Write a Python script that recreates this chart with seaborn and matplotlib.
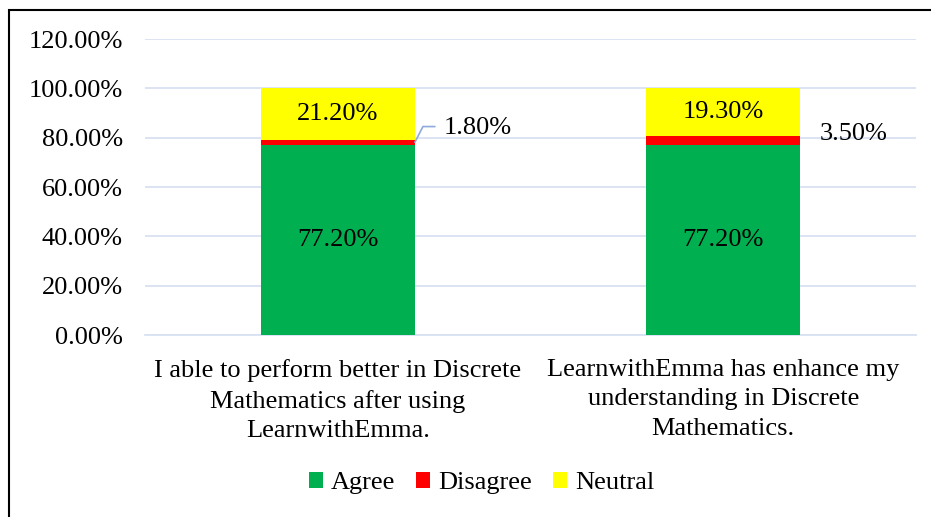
import matplotlib
matplotlib.use("Agg")
import matplotlib.pyplot as plt
import seaborn as sns
import numpy as np
import pandas as pd
from matplotlib.patches import Rectangle

categories = [
    "I able to perform better in Discrete\nMathematics after using\nLearnwithEmma.",
    "LearnwithEmma has enhance my\nunderstanding in Discrete\nMathematics.",
]
agree = [77.2, 77.2]
disagree = [1.8, 3.5]
neutral = [21.2, 19.3]
series_names = ["Agree", "Disagree", "Neutral"]
colors = ["#00B050", "#FF0000", "#FFFF00"]
yticks = [0, 20, 40, 60, 80, 100, 120]

sns.set_theme(style="white")
plt.rcParams["font.family"] = ["Liberation Serif", "DejaVu Serif"]
plt.rcParams["text.color"] = "black"

FS = 19

fig = plt.figure(figsize=(9.31, 5.17), dpi=100)
ax = fig.add_axes([145 / 931, 1 - 335 / 517, (916 - 145) / 931, (335 - 39) / 517])

c1 = np.array(agree)
c2 = c1 + np.array(disagree)
c3 = c2 + np.array(neutral)
df = pd.DataFrame({"cat": categories, "c1": c1, "c2": c2, "c3": c3})

for col, color in zip(["c3", "c2", "c1"], colors[::-1]):
    sns.barplot(data=df, x="cat", y=col, color=color, width=0.4, ax=ax,
                saturation=1, zorder=3, edgecolor="none", linewidth=0)

ax.set_ylim(0, 120)
ax.set_xlim(-0.5, 1.5)
ax.set_yticks(yticks)
ax.set_yticklabels([f"{v:.2f}%" for v in yticks], fontsize=FS, color="black")
ax.tick_params(axis="y", length=0, pad=16)
ax.tick_params(axis="x", length=0, pad=17)
ax.set_xticks(range(len(categories)))
ax.set_xticklabels(categories, fontsize=FS, color="black", linespacing=1.45)
ax.set_xlabel("")
ax.set_ylabel("")
ax.yaxis.grid(True, color="#D9E2F3", linewidth=1.3, zorder=0)
ax.set_axisbelow(True)
for s in ["left", "right", "top"]:
    ax.spines[s].set_visible(False)
ax.spines["bottom"].set_color("#D9E2F3")
ax.spines["bottom"].set_linewidth(1.3)

# data labels
for i in range(len(categories)):
    ax.text(i, agree[i] / 2, f"{agree[i]:.2f}%", ha="center", va="center", fontsize=FS, zorder=5)
    ax.text(i, c2[i] + neutral[i] / 2, f"{neutral[i]:.2f}%", ha="center", va="center", fontsize=FS, zorder=5)

# disagree labels
ax.text(0.275, 83.8, f"{disagree[0]:.2f}%", ha="left", va="center", fontsize=FS, zorder=5)
ax.plot([0.2, 0.221, 0.252], [c1[0] + disagree[0] / 2, 84.5, 84.5], color="#8EA9DB", lw=1.2, zorder=5)
ax.text(1.25, 81.3, f"{disagree[1]:.2f}%", ha="left", va="center", fontsize=FS, zorder=5)

handles = [Rectangle((0, 0), 1, 1, facecolor=c, edgecolor="none") for c in colors]
fig.legend(handles, series_names, loc="center", bbox_to_anchor=(481.5 / 931, 1 - 483 / 517), ncol=3,
           frameon=False, fontsize=FS, handlelength=0.55, handleheight=0.55, handletextpad=0.3,
           columnspacing=0.78)

# outer border
fig.patches.append(Rectangle((9 / 931, -0.1), 1.2, (1 - 10 / 517) + 0.1, transform=fig.transFigure,
                             fill=False, edgecolor="black", linewidth=1.5, figure=fig))

fig.savefig("out.png", dpi=100)
